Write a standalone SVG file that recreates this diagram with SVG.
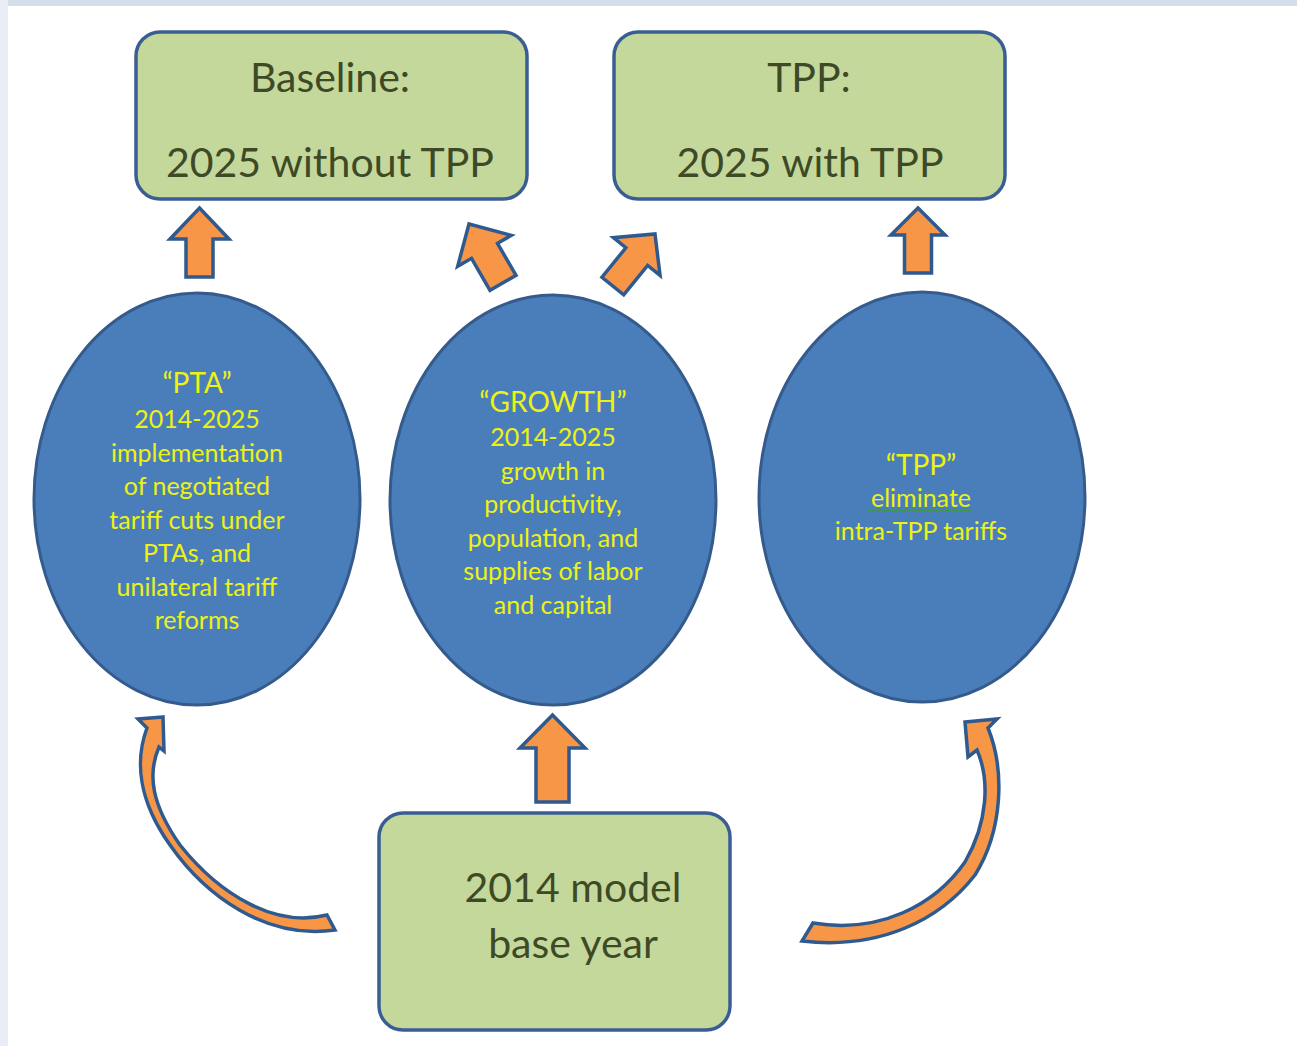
<svg xmlns="http://www.w3.org/2000/svg" width="1297" height="1046" viewBox="0 0 1297 1046">
<defs>
<style>
.box{fill:#c5d89c;stroke:#3a5e94;stroke-width:3.5}
.ell{fill:#4a7ebb;stroke:#345b8c;stroke-width:3}
.arr{fill:#f79646;stroke:#2f5a90;stroke-width:3.5;stroke-linejoin:miter}
.bt{font-family:Lato,"Open Sans",sans-serif;font-size:41px;fill:#3e4a26;text-anchor:middle}
.et{font-family:Lato,"Open Sans",sans-serif;font-size:25px;fill:#eef212;text-anchor:middle}
.eh{font-size:28px}
</style>
</defs>
<rect x="0" y="0" width="1297" height="1046" fill="#ffffff"/>
<rect x="0" y="0" width="1297" height="6" fill="#d6ddea"/>
<rect x="0" y="0" width="8" height="1046" fill="#e9edf5"/>

<g id="connectors">
<path class="arr" transform="translate(199.5,208)" d="M0,0 L29.5,31 L13.5,31 L13.5,69 L-13.5,69 L-13.5,31 L-29.5,31 Z"/>
<path class="arr" transform="translate(918,208)" d="M0,0 L27,27 L13.5,27 L13.5,65 L-13.5,65 L-13.5,27 L-27,27 Z"/>
<path class="arr" transform="translate(552.5,715)" d="M0,0 L32.5,33 L16.5,33 L16.5,87 L-16.5,87 L-16.5,33 L-32.5,33 Z"/>
<path class="arr" transform="translate(469,224) rotate(-30)" d="M0,0 L31,31 L15,31 L15,68 L-15,68 L-15,31 L-31,31 Z"/>
<path class="arr" transform="translate(655,234) rotate(39)" d="M0,0 L30,29 L14,29 L14,67 L-14,67 L-14,29 L-30,29 Z"/>
<path class="arr" d="M163,717 L138,719 L147,728 C135,760 138,800 170,845 C205,895 265,940 335,930 L327,915 C275,928 220,895 180,845 C152,805 147,775 159,747 L164,751 Z"/>
<path class="arr" d="M965,722 L997,719 L988,728 C1005,770 1003,830 975,875 C940,920 880,950 802,941 L813,923 C880,934 935,905 965,862 C988,822 990,780 977,750 L968,757 Z"/>
</g>

<g id="baseline">
<rect class="box" x="136" y="32" width="391" height="167" rx="24"/>
<text class="bt" x="330" y="92">Baseline:</text>
<text class="bt" x="330" y="177">2025 without TPP</text>
</g>

<g id="tpp-box">
<rect class="box" x="614" y="32" width="391" height="167" rx="24"/>
<text class="bt" x="809" y="92">TPP:</text>
<text class="bt" x="810" y="177">2025 with TPP</text>
</g>

<g id="base-year">
<rect class="box" x="379" y="813" width="351" height="217" rx="24"/>
<text class="bt" x="573" y="902">2014 model</text>
<text class="bt" x="573" y="958">base year</text>
</g>

<g id="pta">
<ellipse class="ell" cx="197" cy="499" rx="163" ry="206"/>
<text class="et eh" x="197" y="393">“PTA”</text>
<text class="et" x="197" y="428">2014-2025</text>
<text class="et" x="197" y="461.5">implementation</text>
<text class="et" x="197" y="495">of negotiated</text>
<text class="et" x="197" y="528.5">tariff cuts under</text>
<text class="et" x="197" y="562">PTAs, and</text>
<text class="et" x="197" y="595.5">unilateral tariff</text>
<text class="et" x="197" y="629">reforms</text>
</g>

<g id="growth">
<ellipse class="ell" cx="553" cy="500" rx="163" ry="205"/>
<text class="et eh" x="553" y="412">“GROWTH”</text>
<text class="et" x="553" y="446">2014-2025</text>
<text class="et" x="553" y="479.5">growth in</text>
<text class="et" x="553" y="513">productivity,</text>
<text class="et" x="553" y="546.5">population, and</text>
<text class="et" x="553" y="580">supplies of labor</text>
<text class="et" x="553" y="613.5">and capital</text>
</g>

<g id="tpp">
<ellipse class="ell" cx="922" cy="497" rx="163" ry="205"/>
<text class="et eh" x="921" y="475">“TPP”</text>
<text class="et" x="921" y="507">eliminate</text>
<path d="M868,511 l2,-1.5 l2,1.5 l2,-1.5 l2,1.5 l2,-1.5 l2,1.5 l2,-1.5 l2,1.5 l2,-1.5 l2,1.5 l2,-1.5 l2,1.5 l2,-1.5 l2,1.5 l2,-1.5 l2,1.5 l2,-1.5 l2,1.5 l2,-1.5 l2,1.5 l2,-1.5 l2,1.5 l2,-1.5 l2,1.5 l2,-1.5 l2,1.5 l2,-1.5 l2,1.5 l2,-1.5 l2,1.5 l2,-1.5 l2,1.5 l2,-1.5 l2,1.5 l2,-1.5 l2,1.5 l2,-1.5 l2,1.5 l2,-1.5 l2,1.5 l2,-1.5 l2,1.5 l2,-1.5 l2,1.5 l2,-1.5 l2,1.5 l2,-1.5 l2,1.5 l2,-1.5 l2,1.5 l2,-1.5 l2,1.5" fill="none" stroke="#3d9a3d" stroke-width="1.2"/>
<text class="et" x="921" y="540">intra-TPP tariffs</text>
</g>
</svg>
